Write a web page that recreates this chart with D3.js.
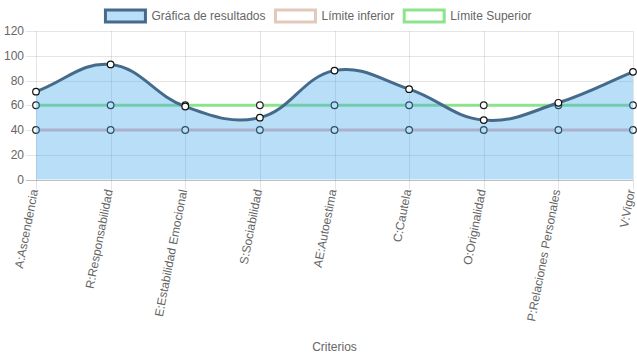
<!DOCTYPE html>
<html>
<head>
<meta charset="utf-8">
<script src="https://cdn.jsdelivr.net/npm/d3@7"></script>
<style>
  html, body { margin: 0; padding: 0; background: #fff; }
  svg { display: block; font-family: "Liberation Sans", Arial, Helvetica, sans-serif; }
</style>
</head>
<body>
<svg id="chart" width="637" height="359"></svg>
<script>
const categories = ["A:Ascendencia", "R:Responsabilidad", "E:Estabilidad Emocional", "S:Sociabilidad",
  "AE:Autoestima", "C:Cautela", "O:Originalidad", "P:Relaciones Personales", "V:Vigor"];
const resultados = [71, 93, 59, 50, 88, 73, 48, 62, 87];
const limiteInferior = [40, 40, 40, 40, 40, 40, 40, 40, 40];
const limiteSuperior = [60, 60, 60, 60, 60, 60, 60, 60, 60];
const yTicks = [0, 20, 40, 60, 80, 100, 120];
const seriesNames = ["Gráfica de resultados", "Límite inferior", "Límite Superior"];
const axisTitle = "Criterios";

const svg = d3.select("#chart");
const W = 637, H = 359;
const area = { left: 36, right: 633, top: 31, bottom: 179.5 };

const x = d3.scalePoint().domain(categories).range([area.left, area.right]);
const y = d3.scaleLinear().domain([0, 120]).range([area.bottom, area.top]);

const txt = "#666";
const grid = "rgba(0,0,0,0.1)";

// Grid lines
const gGrid = svg.append("g");
yTicks.forEach(t => {
  gGrid.append("line")
    .attr("x1", area.left - 10).attr("x2", area.right)
    .attr("y1", Math.round(y(t)) + 0.5).attr("y2", Math.round(y(t)) + 0.5)
    .attr("stroke", t === 0 ? "rgba(0,0,0,0.25)" : grid).attr("stroke-width", 1);
});
categories.forEach(c => {
  gGrid.append("line")
    .attr("x1", Math.round(x(c)) + 0.5).attr("x2", Math.round(x(c)) + 0.5)
    .attr("y1", area.top).attr("y2", area.bottom + 10)
    .attr("stroke", grid).attr("stroke-width", 1);
});

// Y labels
svg.append("g").selectAll("text").data(yTicks).join("text")
  .attr("x", area.left - 12).attr("y", d => y(d))
  .attr("dy", "0.35em").attr("text-anchor", "end")
  .attr("font-size", 12).attr("fill", txt).text(d => d);

// X labels
svg.append("g").selectAll("text").data(categories).join("text")
  .attr("transform", d => `translate(${x(d) - 2},${area.bottom + 10}) rotate(-79)`)
  .attr("text-anchor", "end").attr("dy", "0.35em")
  .attr("font-size", 12).attr("fill", txt).text(d => d);

// Axis title
svg.append("text").attr("x", (area.left + area.right) / 2).attr("y", 351)
  .attr("text-anchor", "middle").attr("font-size", 12).attr("fill", txt).text(axisTitle);

// Chart.js-like spline
function splinePts(vals) {
  const pts = vals.map((v, i) => ({ x: x(categories[i]), y: y(v) }));
  const t = 0.4;
  pts.forEach((c, i) => {
    const p = pts[i - 1] || c, n = pts[i + 1] || c;
    const d01 = Math.hypot(c.x - p.x, c.y - p.y);
    const d12 = Math.hypot(n.x - c.x, n.y - c.y);
    let s01 = d01 / (d01 + d12), s12 = d12 / (d01 + d12);
    if (isNaN(s01)) s01 = 0; if (isNaN(s12)) s12 = 0;
    const fa = t * s01, fb = t * s12;
    c.px = c.x - fa * (n.x - p.x); c.py = c.y - fa * (n.y - p.y);
    c.nx = c.x + fb * (n.x - p.x); c.ny = c.y + fb * (n.y - p.y);
    c.py = Math.max(area.top, Math.min(area.bottom, c.py));
    c.ny = Math.max(area.top, Math.min(area.bottom, c.ny));
  });
  return pts;
}
function linePath(pts, closeToBottom) {
  const p = d3.path();
  p.moveTo(pts[0].x, pts[0].y);
  for (let i = 1; i < pts.length; i++) {
    const a = pts[i - 1], b = pts[i];
    p.bezierCurveTo(a.nx, a.ny, b.px, b.py, b.x, b.y);
  }
  if (closeToBottom) {
    p.lineTo(pts[pts.length - 1].x, y(0));
    p.lineTo(pts[0].x, y(0));
    p.closePath();
  }
  return p.toString();
}

const styles = [
  { vals: resultados, stroke: "#466a8b", fill: "rgba(54,162,235,0.35)", pointStroke: "#111" },
  { vals: limiteInferior, stroke: "rgb(232,184,190)", fill: null, pointStroke: "#222" },
  { vals: limiteSuperior, stroke: "rgba(130,225,130,0.9)", fill: null, pointStroke: "#222" }
];

// draw in reverse order (last dataset first)
[2, 1, 0].forEach(k => {
  const s = styles[k];
  const pts = splinePts(s.vals);
  const g = svg.append("g");
  if (s.fill) g.append("path").attr("d", linePath(pts, true)).attr("fill", s.fill);
  g.append("path").attr("d", linePath(pts, false)).attr("fill", "none")
    .attr("stroke", s.stroke).attr("stroke-width", 3);
  g.selectAll("circle").data(pts).join("circle")
    .attr("cx", d => d.x).attr("cy", d => d.y).attr("r", 3.3)
    .attr("fill", "#fff").attr("stroke", s.pointStroke).attr("stroke-width", 1.2);
});

// Legend
const legendBoxes = [
  { stroke: "#466a8b", fill: "rgba(54,162,235,0.35)" },
  { stroke: "rgba(228,200,188,1)", fill: "#fff" },
  { stroke: "rgba(130,225,130,0.9)", fill: "#fff" }
];
const lg = svg.append("g");
const items = seriesNames.map((n, i) => {
  const g = lg.append("g");
  g.append("rect").attr("x", 0).attr("y", 10).attr("width", 40).attr("height", 12)
    .attr("fill", legendBoxes[i].fill).attr("stroke", legendBoxes[i].stroke).attr("stroke-width", 3);
  const t = g.append("text").attr("x", 46).attr("y", 16).attr("dy", "0.35em")
    .attr("font-size", 12).attr("fill", txt).text(n);
  return { g, w: 46 + t.node().getComputedTextLength() };
});
const total = d3.sum(items, d => d.w) + 10 * (items.length - 1);
let cx = (W - total) / 2;
items.forEach(it => { it.g.attr("transform", `translate(${cx},0)`); cx += it.w + 10; });
</script>
</body>
</html>
